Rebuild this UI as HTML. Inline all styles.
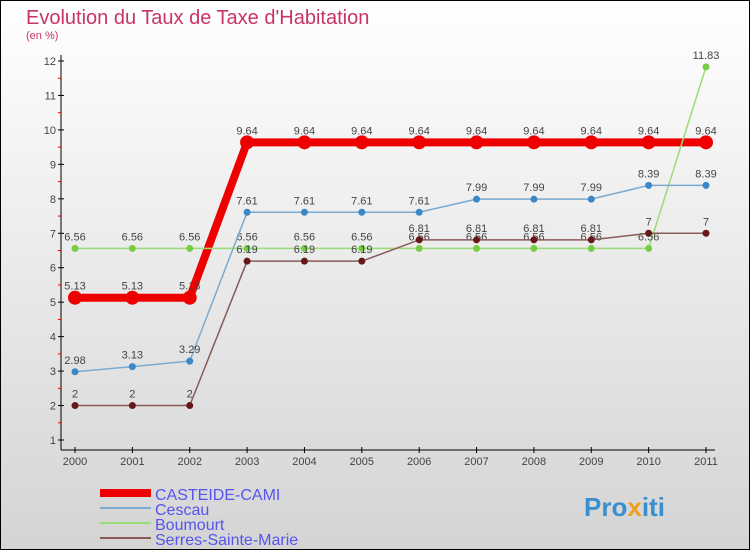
<!DOCTYPE html>
<html><head><meta charset="utf-8"><style>
body{margin:0}
#c{width:750px;height:550px;position:relative;box-sizing:border-box;border:1px solid #000;background:linear-gradient(#fff,#d4d4d4);font-family:"Liberation Sans",sans-serif;overflow:hidden}
</style></head><body>
<div id="c">
<svg width="750" height="550" style="position:absolute;left:-1px;top:-1px" id="s">
<text x="26" y="24" font-size="20" fill="#c8336a">Evolution du Taux de Taxe d'Habitation</text>
<text x="26" y="39" font-size="11" fill="#c8336a">(en %)</text>
<g id="ax"></g><g id="pl"></g>
<g font-size="16" fill="#5555ee">
<rect x="100" y="489" width="51" height="8" fill="#e00"/><text x="155" y="500">CASTEIDE-CAMI</text>
<line x1="100" y1="508" x2="151" y2="508" stroke="#7aaad0" stroke-width="2"/><text x="155" y="515">Cescau</text>
<line x1="100" y1="523" x2="151" y2="523" stroke="#99dd77" stroke-width="2"/><text x="155" y="530">Boumourt</text>
<line x1="100" y1="538" x2="151" y2="538" stroke="#8a5a5a" stroke-width="2"/><text x="155" y="545">Serres-Sainte-Marie</text>
</g>
<text x="584" y="516" font-size="26" font-weight="bold" fill="#3a8fd0">Pro<tspan fill="#f0a020">x</tspan>iti</text>
</svg></div>
<script>
const years=[2000,2001,2002,2003,2004,2005,2006,2007,2008,2009,2010,2011];
const casteide=[5.13,5.13,5.13,9.64,9.64,9.64,9.64,9.64,9.64,9.64,9.64,9.64];
const cescau=[2.98,3.13,3.29,7.61,7.61,7.61,7.61,7.99,7.99,7.99,8.39,8.39];
const boumourt=[6.56,6.56,6.56,6.56,6.56,6.56,6.56,6.56,6.56,6.56,6.56,11.83];
const serres=[2,2,2,6.19,6.19,6.19,6.81,6.81,6.81,6.81,7,7];
const yTicks=[1,2,3,4,5,6,7,8,9,10,11,12];
const NS="http://www.w3.org/2000/svg";
const X=i=>75+i*(706-75)/11, Y=v=>440-(v-1)*(440-61)/11;
function mk(t,a,p){const e=document.createElementNS(NS,t);for(const k in a)e.setAttribute(k,a[k]);p.appendChild(e);return e;}
const ax=document.getElementById('ax'),pl=document.getElementById('pl');
mk('line',{x1:61,y1:55,x2:61,y2:450,stroke:'#000'},ax);
mk('line',{x1:61,y1:450,x2:715,y2:450,stroke:'#000'},ax);
yTicks.forEach(v=>{const y=Y(v);
mk('line',{x1:58,y1:y,x2:64,y2:y,stroke:'#000'},ax);
if(v<12)mk('line',{x1:58,y1:y-17.2,x2:61,y2:y-17.2,stroke:'#e00'},ax);
const t=mk('text',{x:56,y:y+4,'font-size':11,fill:'#444','text-anchor':'end'},ax);t.textContent=v;

});
years.forEach((yr,i)=>{const x=X(i);
mk('line',{x1:x,y1:447,x2:x,y2:453,stroke:'#000'},ax);
const t=mk('text',{x:x,y:465,'font-size':11,fill:'#444','text-anchor':'middle'},ax);t.textContent=yr;

});
function series(d,name,col,dot,w,r){
const g=mk('g',{},pl);


mk('polyline',{points:d.map((v,i)=>X(i)+','+Y(v)).join(' '),fill:'none',stroke:col,'stroke-width':w},g);
d.forEach((v,i)=>{const c=mk('circle',{cx:X(i),cy:Y(v),r:r,fill:dot},g);


const t=mk('text',{x:X(i),y:Y(v)-8,'font-size':11,fill:'#444','text-anchor':'middle'},g);t.textContent=v;});}
series(casteide,'series-casteide-cami','#e00','#e00',8,7);
series(boumourt,'series-boumourt','#99dd77','#77cc44',1.5,3.5);
series(cescau,'series-cescau','#7aaad0','#3a88c8',1.5,3.5);
series(serres,'series-serres-sainte-marie','#8a5a5a','#661818',1.5,3.5);
</script>
</body></html>
